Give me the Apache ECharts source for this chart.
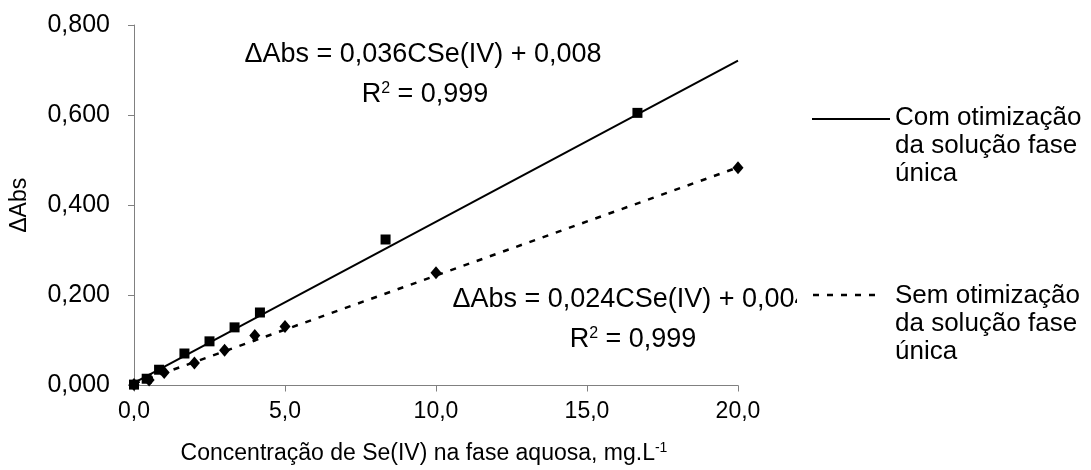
<!DOCTYPE html>
<html><head><meta charset="utf-8">
<script src="https://cdn.jsdelivr.net/npm/echarts@6/dist/echarts.min.js"></script>
<style>html,body{margin:0;padding:0;background:#fff}#c{width:1091px;height:470px}</style>
</head><body><div id="c"></div>
<script>
// Data
const concCom = [0, 0.42, 0.83, 1.67, 2.5, 3.33, 4.17, 8.33, 16.67];
const absCom  = [0.002, 0.015, 0.035, 0.071, 0.098, 0.129, 0.162, 0.324, 0.605];
const concSem = [0, 0.5, 1, 2, 3, 4, 5, 10, 20];
const absSem  = [0.002, 0.012, 0.029, 0.050, 0.078, 0.111, 0.131, 0.250, 0.483];
const trendX   = [0, 20];
const trendCom = [0.006, 0.721];
const trendSem = [0.004, 0.484];
const legendCom = ['Com otimização', 'da solução fase', 'única'];
const legendSem = ['Sem otimização', 'da solução fase', 'única'];
const eqCom = ['ΔAbs = 0,036CSe(IV) + 0,008', 'R{sup|2} = 0,999'];
const eqSem = ['ΔAbs = 0,024CSe(IV) + 0,004', 'R{sup|2} = 0,999'];

const F = '"Liberation Sans", Arial, sans-serif';
const fmt = d => v => v.toFixed(d).replace('.', ',');
const pairs = (xs, ys) => xs.map((x, i) => [x, ys[i]]);
const supRich = { sup: { fontSize: 16, fontFamily: F, fill: '#000', color: '#000', verticalAlign: 'top', padding: [0, 0, 12, 0] } };

const chart = echarts.init(document.getElementById('c'));
const option = {
  animation: false,
  backgroundColor: '#fff',
  grid: { left: 134, right: 353, top: 25, bottom: 84 },
  xAxis: {
    type: 'value', min: 0, max: 20, interval: 5,
    axisLine: { lineStyle: { color: '#808080', width: 1 } },
    axisTick: { show: true, length: 6, lineStyle: { color: '#808080' } },
    axisLabel: { formatter: fmt(1), color: '#000', fontSize: 23, fontFamily: F, margin: 15 },
    splitLine: { show: false },
    name: 'Concentração de Se(IV) na fase aquosa, mg.L{sup|-1}',
    nameLocation: 'middle', nameGap: 56,
    nameTextStyle: { color: '#000', fontSize: 23, fontFamily: F, padding: [0, 24, 0, 0],
      rich: { sup: { fontSize: 14, fontFamily: F, color: '#000', verticalAlign: 'top', padding: [0, 0, 10, 0] } } }
  },
  yAxis: {
    type: 'value', min: 0, max: 0.8, interval: 0.2,
    axisLine: { show: true, lineStyle: { color: '#808080', width: 1 } },
    axisTick: { show: true, length: 6, lineStyle: { color: '#808080' } },
    axisLabel: { formatter: fmt(3), color: '#000', fontSize: 25, fontFamily: F, margin: 24 },
    splitLine: { show: false },
    name: 'ΔAbs', nameLocation: 'middle', nameGap: 103,
    nameTextStyle: { color: '#000', fontSize: 23, fontFamily: F }
  },
  series: [
    { type: 'line', name: 'Com', data: pairs(trendX, trendCom), symbol: 'none',
      lineStyle: { color: '#000', width: 2 }, z: 2 },
    { type: 'line', name: 'Sem', data: pairs(trendX, trendSem), symbol: 'none',
      lineStyle: { color: '#000', width: 2.5, type: [6, 8] }, z: 2 },
    { type: 'scatter', data: pairs(concCom, absCom), symbol: 'rect', symbolSize: 10,
      itemStyle: { color: '#000', opacity: 1 }, z: 3 },
    { type: 'scatter', data: pairs(concSem, absSem), symbol: 'diamond', symbolSize: [11, 13],
      itemStyle: { color: '#000', opacity: 1 }, z: 3 }
  ],
  graphic: [
    { type: 'text', x: 423, y: 55, z: 50, style: { text: eqCom[0], fontSize: 27, fontFamily: F, fill: '#000', align: 'center', verticalAlign: 'middle' } },
    { type: 'text', x: 425, y: 95, z: 50, style: { text: eqCom[1], fontSize: 27, fontFamily: F, fill: '#000', align: 'center', verticalAlign: 'middle', rich: supRich } },
    { type: 'text', x: 631, y: 300, z: 50, style: { text: eqSem[0], fontSize: 27, fontFamily: F, fill: '#000', align: 'center', verticalAlign: 'middle' } },
    { type: 'text', x: 633, y: 340, z: 50, style: { text: eqSem[1], fontSize: 27, fontFamily: F, fill: '#000', align: 'center', verticalAlign: 'middle', rich: supRich } },
    // legend box
    { type: 'rect', z: 60, shape: { x: 797, y: 80, width: 294, height: 310 }, style: { fill: '#fff' } },
    { type: 'line', z: 61, shape: { x1: 812, y1: 119, x2: 890, y2: 119 }, style: { stroke: '#000', lineWidth: 2 } },
    { type: 'line', z: 61, shape: { x1: 813, y1: 295, x2: 883, y2: 295 }, style: { stroke: '#000', lineWidth: 2.5, lineDash: [6, 8] } },
    { type: 'text', x: 895, y: 104, z: 61, style: { text: legendCom.join('\n'), fontSize: 26, lineHeight: 28, fontFamily: F, fill: '#000', align: 'left', verticalAlign: 'top' } },
    { type: 'text', x: 895, y: 282, z: 61, style: { text: legendSem.join('\n'), fontSize: 26, lineHeight: 28, fontFamily: F, fill: '#000', align: 'left', verticalAlign: 'top' } }
  ]
};
chart.setOption(option);
</script></body></html>
